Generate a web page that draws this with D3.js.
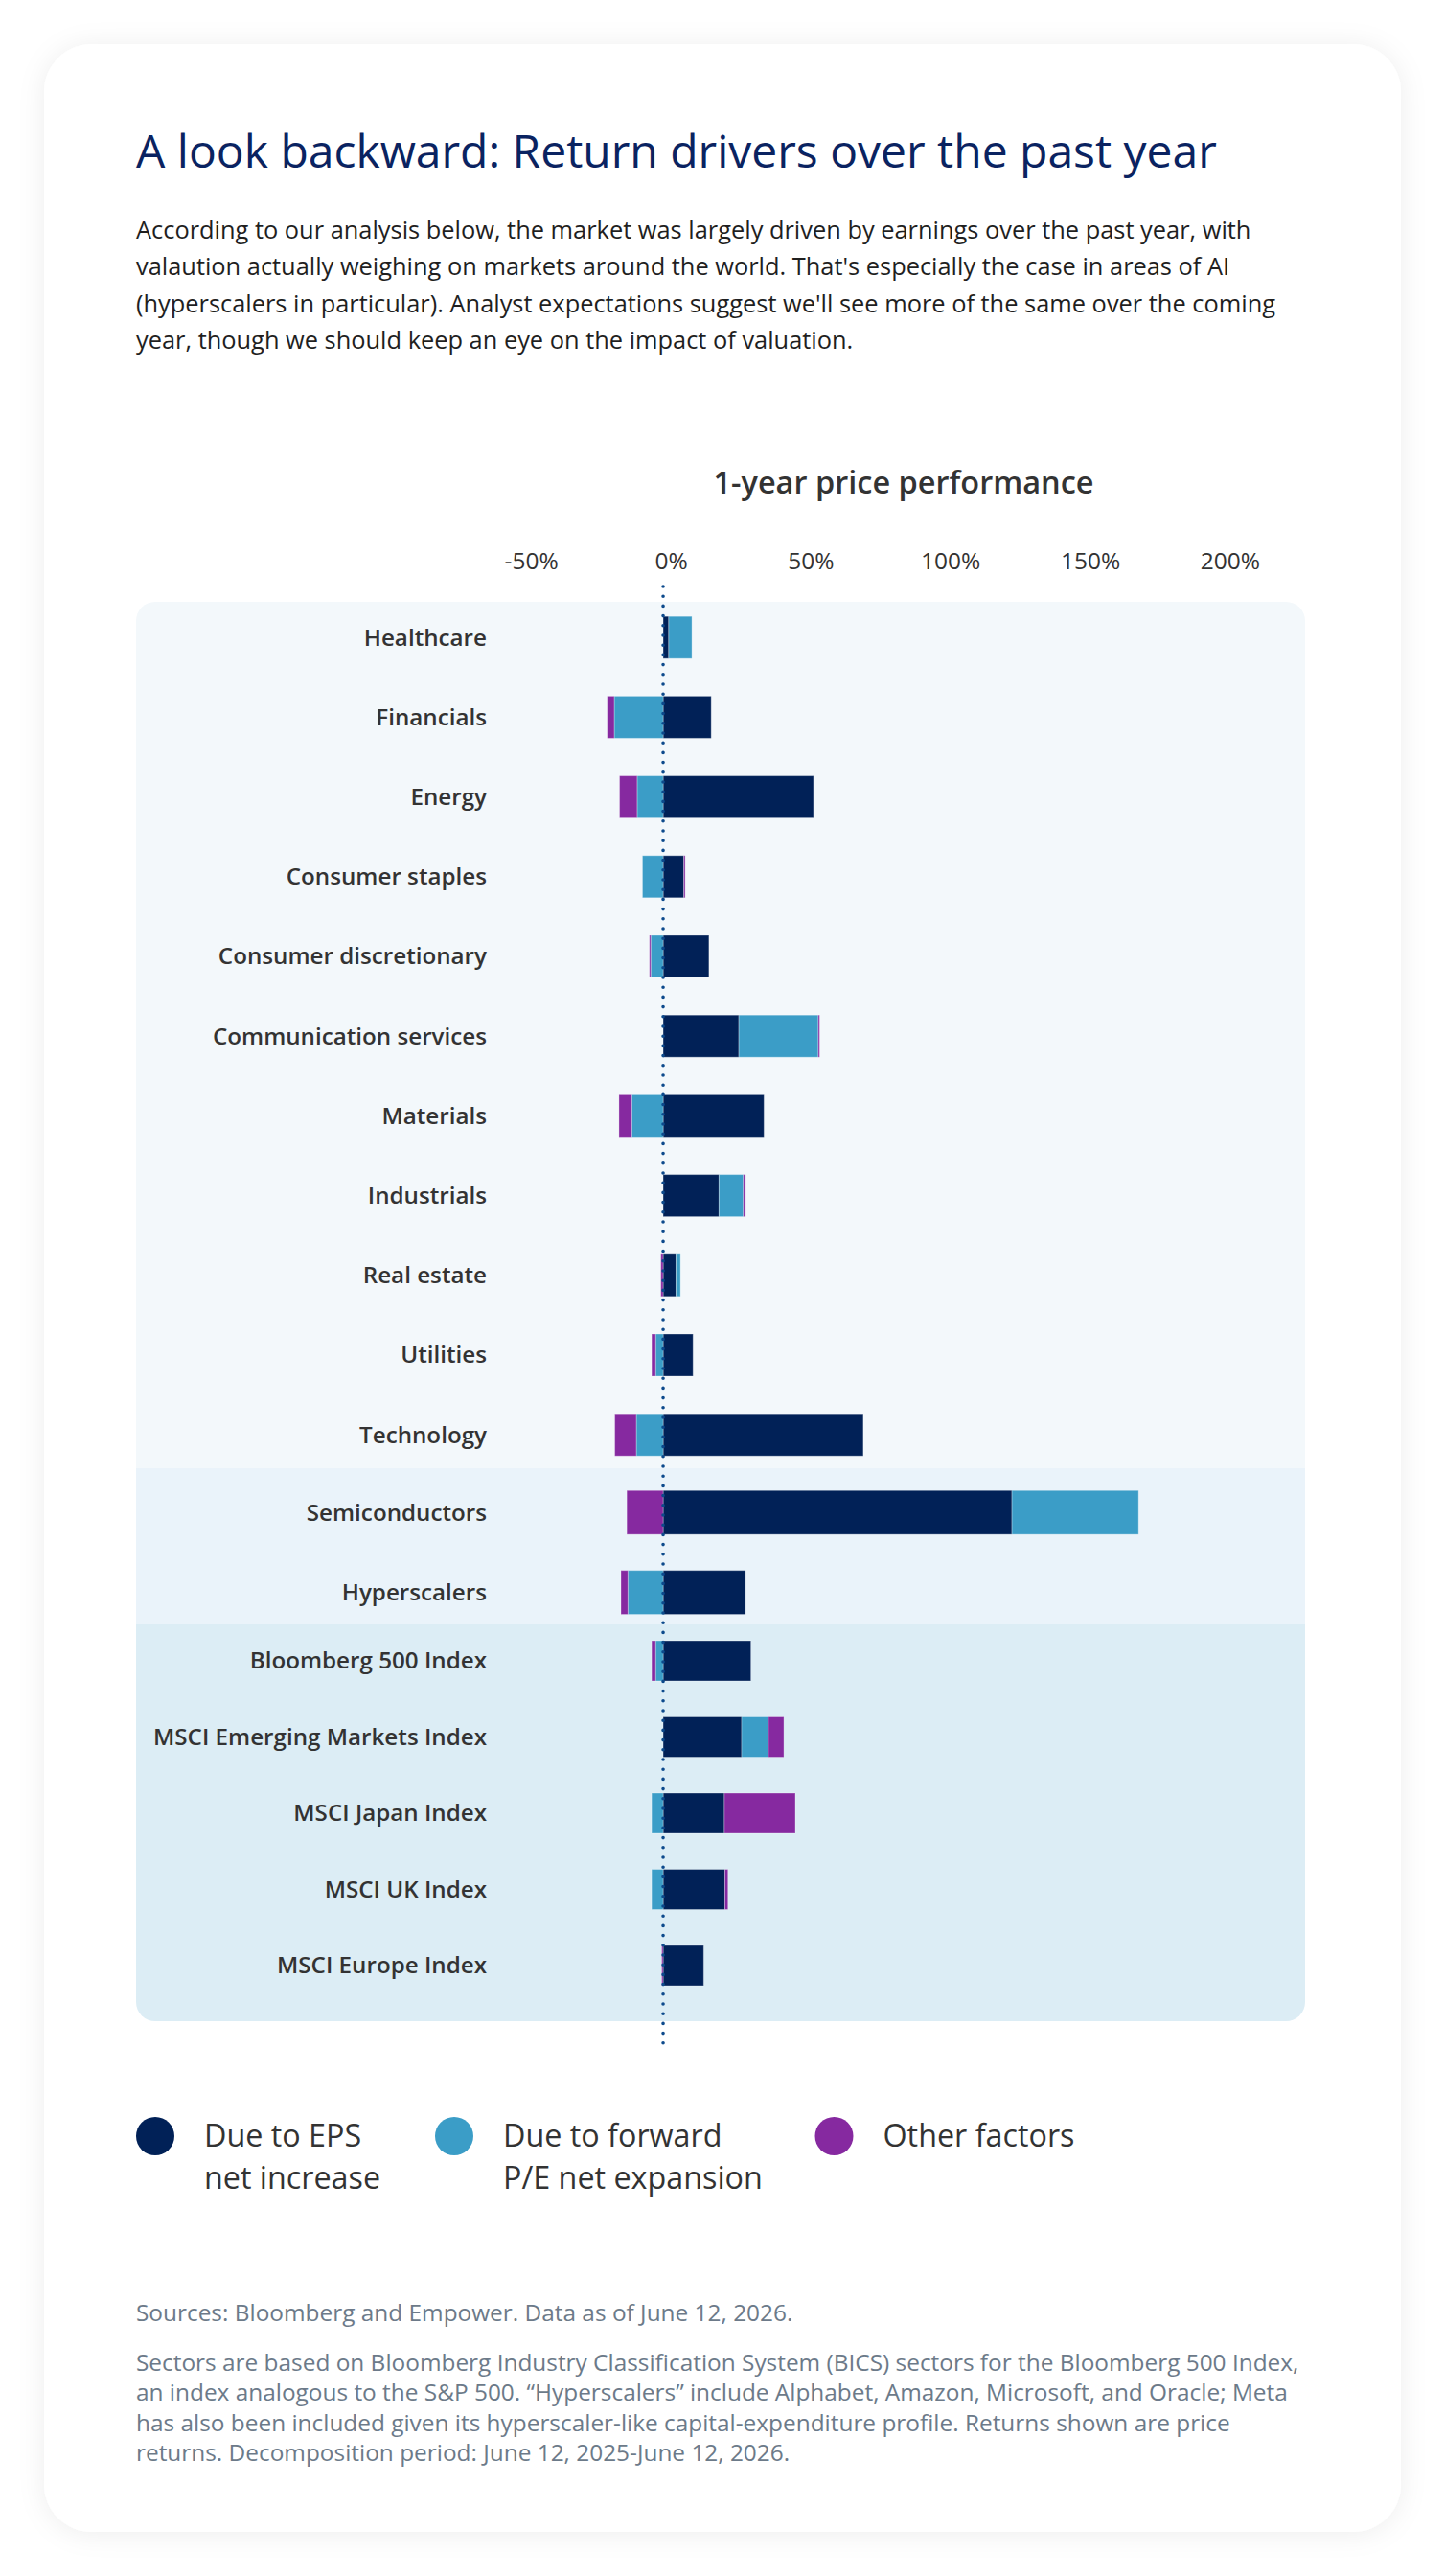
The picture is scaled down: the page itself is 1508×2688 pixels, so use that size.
<!DOCTYPE html>
<html>
<head>
<meta charset="utf-8">
<title>Return drivers over the past year</title>
<script src="https://d3js.org/d3.v7.min.js"></script>
<style>
  body { margin: 0; background: #fff; font-family: "Open Sans", sans-serif; }
  svg { display: block; }
</style>
</head>
<body>
<script>
// --- data ---
var sectors = ["Healthcare", "Financials", "Energy", "Consumer staples", "Consumer discretionary",
  "Communication services", "Materials", "Industrials", "Real estate", "Utilities", "Technology"];
var aiGroup = ["Semiconductors", "Hyperscalers"];
var indices = ["Bloomberg 500 Index", "MSCI Emerging Markets Index", "MSCI Japan Index",
  "MSCI UK Index", "MSCI Europe Index"];

var categories = sectors.concat(aiGroup, indices);

// contribution to 1-year return, in %
var epsGrowth = [2.0, 17.2, 53.8, 7.4, 16.4, 27.1, 36.1, 20.0, 4.6, 10.7, 71.6,
  124.8, 29.5,
  31.4, 28.1, 21.9, 22.1, 14.5];
var peExpansion = [8.3, -17.5, -9.3, -7.4, -4.4, 28.4, -11.2, 8.7, 1.6, -2.7, -9.6,
  45.3, -12.6,
  -2.7, 9.6, -4.1, -4.1, 0];
var otherFactors = [0, -2.5, -6.3, 0.5, -0.5, 0.5, -4.6, 0.8, -0.8, -1.4, -7.7,
  -13.0, -2.5,
  -1.4, 5.5, 25.4, 1.1, -0.5];

var tickValues = [-50, 0, 50, 100, 150, 200];
var seriesKeys = ["eps", "pe", "other"];
var seriesLabels = [["Due to EPS", "net increase"], ["Due to forward", "P/E net expansion"], ["Other factors"]];
var colors = { eps: "#012157", pe: "#3b9dc7", other: "#8629a0" };

var title = "A look backward: Return drivers over the past year";
var intro = [
  "According to our analysis below, the market was largely driven by earnings over the past year, with",
  "valaution actually weighing on markets around the world. That's especially the case in areas of AI",
  "(hyperscalers in particular). Analyst expectations suggest we'll see more of the same over the coming",
  "year, though we should keep an eye on the impact of valuation."
];
var sourceLine = "Sources: Bloomberg and Empower. Data as of June 12, 2026.";
var notes = [
  "Sectors are based on Bloomberg Industry Classification System (BICS) sectors for the Bloomberg 500 Index,",
  "an index analogous to the S&P 500. \u201cHyperscalers\u201d include Alphabet, Amazon, Microsoft, and Oracle; Meta",
  "has also been included given its hyperscaler-like capital-expenditure profile. Returns shown are price",
  "returns. Decomposition period: June 12, 2025-June 12, 2026."
];

// --- layout ---
var width = 1508, height = 2688;
var panel = { x: 142, y: 628, w: 1220, h: 1481 };
var bandTops = [628, 1532, 1695, 2109];
var bandFills = ["#f3f8fb", "#eaf3fa", "#dcedf5"];

var svg = d3.select("body").append("svg").attr("width", width).attr("height", height);
var defs = svg.append("defs");

var shadow = defs.append("filter").attr("id", "shadow")
  .attr("x", "-10%").attr("y", "-10%").attr("width", "120%").attr("height", "120%");
shadow.append("feDropShadow").attr("dx", 0).attr("dy", 2).attr("stdDeviation", 14)
  .attr("flood-color", "#000").attr("flood-opacity", 0.07);

// card
svg.append("rect").attr("x", 46).attr("y", 46).attr("width", 1416).attr("height", 2596)
  .attr("rx", 50).attr("fill", "#fff").attr("filter", "url(#shadow)");

// title + intro
svg.append("text").attr("x", 142).attr("y", 175).text(title)
  .attr("font-size", 48).attr("fill", "#0a2361").attr("font-weight", 400);

svg.append("g").selectAll("text").data(intro).join("text")
  .attr("x", 142).attr("y", function(d, i) { return 249 + i * 38.4; })
  .attr("font-size", 25.4).attr("fill", "#1f1f1f")
  .text(function(d) { return d; });

// x scale
var x = d3.scaleLinear().domain([-50, 200]).range([546.2, 1275.4]);

// y: one band scale per group
var ySectors = d3.scaleBand().domain(sectors).range([623.6, 623.6 + 11 * 83.2]).paddingInner(0.471).paddingOuter(0.2355);
var yAi = d3.scaleBand().domain(aiGroup).range([1536.5, 1536.5 + 2 * 83.4]).paddingInner(0.45).paddingOuter(0.225);
var yIdx = d3.scaleBand().domain(indices).range([1693.25, 1693.25 + 5 * 79.5]).paddingInner(0.472).paddingOuter(0.236);
function yOf(name) {
  if (sectors.indexOf(name) >= 0) return ySectors(name);
  if (aiGroup.indexOf(name) >= 0) return yAi(name);
  return yIdx(name);
}
function bwOf(name) {
  if (sectors.indexOf(name) >= 0) return ySectors.bandwidth();
  if (aiGroup.indexOf(name) >= 0) return yAi.bandwidth();
  return yIdx.bandwidth();
}

// panel backgrounds
defs.append("clipPath").attr("id", "panelClip").append("rect")
  .attr("x", panel.x).attr("y", panel.y).attr("width", panel.w).attr("height", panel.h).attr("rx", 20);
svg.append("g").attr("clip-path", "url(#panelClip)").selectAll("rect").data(bandFills).join("rect")
  .attr("x", panel.x).attr("width", panel.w)
  .attr("y", function(d, i) { return bandTops[i]; })
  .attr("height", function(d, i) { return bandTops[i + 1] - bandTops[i]; })
  .attr("fill", function(d) { return d; });

// chart heading
svg.append("text").attr("x", 943).attr("y", 515).attr("text-anchor", "middle")
  .attr("font-size", 32.5).attr("font-weight", 600).attr("fill", "#333")
  .text("1-year price performance");

// axis labels
var axis = svg.append("g").attr("transform", "translate(0,594)")
  .call(d3.axisTop(x).tickValues(tickValues).tickSize(0).tickFormat(function(d) { return d + "%"; }));
axis.select(".domain").remove();
axis.selectAll("text").attr("y", 0).attr("dy", 0).attr("dx", 8)
  .attr("font-family", "Open Sans").attr("font-size", 24.5).attr("fill", "#333");

// stacked bars
var rows = categories.map(function(c, i) {
  return { name: c, eps: epsGrowth[i], pe: peExpansion[i], other: otherFactors[i] };
});
var stacked = d3.stack().keys(seriesKeys).offset(d3.stackOffsetDiverging)(rows);

svg.append("g").selectAll("g").data(stacked).join("g")
  .attr("fill", function(s) { return colors[s.key]; })
  .selectAll("rect").data(function(s) { return s; }).join("rect")
  .attr("x", function(d) { return x(Math.min(d[0], d[1])); })
  .attr("width", function(d) { return Math.abs(x(d[1]) - x(d[0])); })
  .attr("y", function(d) { return yOf(d.data.name); })
  .attr("height", function(d) { return bwOf(d.data.name); })
  .attr("stroke", "#fff").attr("stroke-opacity", 0.3).attr("stroke-width", 1);

// row labels
svg.append("g").selectAll("text").data(categories).join("text")
  .attr("x", 508).attr("y", function(d) { return yOf(d) + bwOf(d) / 2; })
  .attr("dy", "0.35em").attr("text-anchor", "end")
  .attr("font-size", 24.2).attr("font-weight", 600).attr("fill", "#333")
  .text(function(d) { return d; });

// zero line (dotted)
svg.append("line").attr("x1", x(0)).attr("x2", x(0)).attr("y1", 612).attr("y2", 2132)
  .attr("stroke", "#0d4a8c").attr("stroke-width", 3.6).attr("stroke-linecap", "round")
  .attr("stroke-dasharray", "0 10.2");

// legend
var legendX = [162, 474, 870.5];
var legend = svg.append("g").selectAll("g").data(seriesKeys).join("g")
  .attr("transform", function(d, i) { return "translate(" + legendX[i] + ",2229)"; });
legend.append("circle").attr("r", 20).attr("fill", function(d) { return colors[d]; });
legend.append("text").attr("x", 51).attr("font-size", 32.3).attr("fill", "#333")
  .selectAll("tspan").data(function(d, i) { return seriesLabels[i]; }).join("tspan")
  .attr("x", 51).attr("y", function(d, i) { return 11 + i * 44; })
  .text(function(d) { return d; });

// sources / notes
svg.append("text").attr("x", 142).attr("y", 2422).attr("font-size", 24.4).attr("fill", "#6c7a89")
  .text(sourceLine);
svg.append("g").selectAll("text").data(notes).join("text")
  .attr("x", 142).attr("y", function(d, i) { return 2473.5 + i * 31.5; })
  .attr("font-size", 24.4).attr("fill", "#6c7a89")
  .text(function(d) { return d; });
</script>
</body>
</html>
